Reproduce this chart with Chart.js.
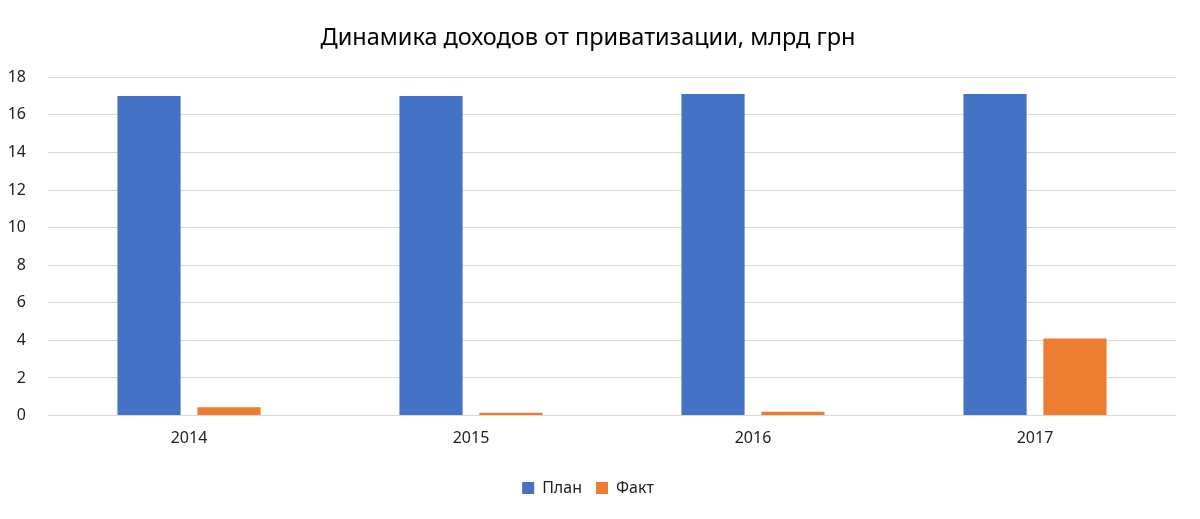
<!DOCTYPE html>
<html>
<head>
<meta charset="utf-8">
<script src="https://cdn.jsdelivr.net/npm/chart.js"></script>
<style>
  html, body { margin: 0; padding: 0; background: #fff; }
  #wrap { width: 1200px; height: 519px; }
</style>
</head>
<body>
<div id="wrap"><canvas id="chart" width="1200" height="519"></canvas></div>
<script>
// Data
const years = ["2014", "2015", "2016", "2017"];
const planValues = [17.0, 17.0, 17.1, 17.1];
const factValues = [0.45, 0.15, 0.2, 4.1];
const yTicks = [0, 2, 4, 6, 8, 10, 12, 14, 16, 18];

const FONT = "'Noto Sans', Lato, sans-serif";

new Chart(document.getElementById("chart"), {
  type: "bar",
  data: {
    labels: years,
    datasets: [
      {
        label: "План",
        data: planValues,
        backgroundColor: "#4472c4",
        categoryPercentage: 0.567,
        barPercentage: 0.79
      },
      {
        label: "Факт",
        data: factValues,
        backgroundColor: "#ed7d31",
        categoryPercentage: 0.567,
        barPercentage: 0.79
      }
    ]
  },
  options: {
    responsive: false,
    animation: false,
    layout: { padding: { left: 0, right: 24, top: 10, bottom: 13 } },
    plugins: {
      title: {
        display: true,
        text: "Динамика доходов от приватизации, млрд грн",
        color: "#000",
        font: { family: FONT, size: 23.5, weight: "normal" },
        padding: { top: 14, bottom: 25 }
      },
      legend: {
        position: "bottom",
        // empty title only to push the legend down a bit
        title: { display: true, text: "", font: { size: 1 }, padding: { top: 0, bottom: 12 } },
        labels: {
          color: "#222",
          boxWidth: 12,
          boxHeight: 12,
          padding: 14,
          font: { family: FONT, size: 16 }
        }
      },
      tooltip: { enabled: false }
    },
    scales: {
      y: {
        min: 0,
        max: 18,
        afterBuildTicks: (axis) => { axis.ticks = yTicks.map(v => ({ value: v })); },
        afterFit: (axis) => { axis.width = 48; },
        border: { display: false },
        grid: { color: "#d9d9d9", lineWidth: 1, drawTicks: false },
        ticks: {
          color: "#222",
          padding: 22,
          font: { family: FONT, size: 16 }
        }
      },
      x: {
        border: { display: false },
        grid: { display: false },
        ticks: {
          color: "#222",
          padding: 5,
          font: { family: FONT, size: 16 }
        }
      }
    }
  }
});
</script>
</body>
</html>
